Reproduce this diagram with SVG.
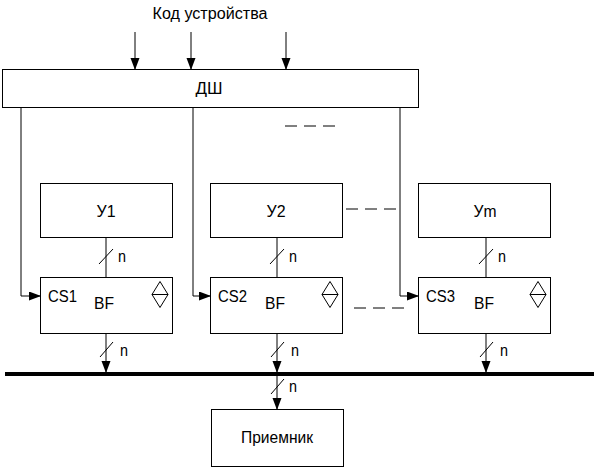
<svg xmlns="http://www.w3.org/2000/svg" width="600" height="470" viewBox="0 0 600 470">
<style>
.box{fill:#fff;stroke:#000;stroke-width:1}
.ln{fill:none;stroke:#000;stroke-width:1}
.dash{fill:none;stroke:#000;stroke-width:1;stroke-dasharray:12 7}
.t{font-family:"Liberation Sans",Arial,sans-serif;font-size:16px;fill:#000}
.m{text-anchor:middle}
</style>
<defs>
<marker id="ar" markerWidth="12" markerHeight="10" refX="11" refY="4.5" orient="auto" markerUnits="userSpaceOnUse">
<path d="M0,0 L12,4.5 L0,9 z" fill="#000"/>
</marker>
</defs>
<rect width="600" height="470" fill="#fff"/>
<text class="t m" x="210" y="19" textLength="115" lengthAdjust="spacingAndGlyphs">Код устройства</text>
<g id="connectors">
<line class="ln" x1="135" y1="32" x2="135" y2="69" marker-end="url(#ar)"/>
<line class="ln" x1="191" y1="32" x2="191" y2="69" marker-end="url(#ar)"/>
<line class="ln" x1="286" y1="32" x2="286" y2="69" marker-end="url(#ar)"/>
<polyline class="ln" points="21,108 21,296 40,296" marker-end="url(#ar)"/>
<polyline class="ln" points="193,108 193,296 210,296" marker-end="url(#ar)"/>
<polyline class="ln" points="400,108 400,296 418,296" marker-end="url(#ar)"/>
<line class="dash" x1="285" y1="126" x2="337" y2="126"/>
<line class="dash" x1="346" y1="209" x2="398" y2="209"/>
<line class="dash" x1="354" y1="308" x2="404" y2="308"/>
<line class="ln" x1="106" y1="237" x2="106" y2="277"/>
<line class="ln" x1="277" y1="237" x2="277" y2="277"/>
<line class="ln" x1="486" y1="237" x2="486" y2="277"/>
<line class="ln" x1="99" y1="264" x2="113" y2="249"/>
<line class="ln" x1="270" y1="264" x2="284" y2="249"/>
<line class="ln" x1="479" y1="264" x2="493" y2="249"/>
<text class="t" x="118" y="262" textLength="8" lengthAdjust="spacingAndGlyphs">n</text>
<text class="t" x="289" y="262" textLength="8" lengthAdjust="spacingAndGlyphs">n</text>
<text class="t" x="498" y="262" textLength="8" lengthAdjust="spacingAndGlyphs">n</text>
<line class="ln" x1="106" y1="333" x2="106" y2="372" marker-end="url(#ar)"/>
<line class="ln" x1="277" y1="333" x2="277" y2="372" marker-end="url(#ar)"/>
<line class="ln" x1="486" y1="333" x2="486" y2="372" marker-end="url(#ar)"/>
<line class="ln" x1="100" y1="357" x2="113" y2="342"/>
<line class="ln" x1="271" y1="357" x2="284" y2="342"/>
<line class="ln" x1="480" y1="357" x2="493" y2="342"/>
<text class="t" x="120" y="356" textLength="8" lengthAdjust="spacingAndGlyphs">n</text>
<text class="t" x="291" y="356" textLength="8" lengthAdjust="spacingAndGlyphs">n</text>
<text class="t" x="500" y="356" textLength="8" lengthAdjust="spacingAndGlyphs">n</text>
<line x1="5" y1="374" x2="594" y2="374" stroke="#000" stroke-width="4"/>
<line class="ln" x1="277" y1="376" x2="277" y2="409" marker-end="url(#ar)"/>
<line class="ln" x1="271" y1="394" x2="284" y2="379"/>
<text class="t" x="289" y="392" textLength="8" lengthAdjust="spacingAndGlyphs">n</text>
</g>
<g id="DSh"><rect class="box" x="2.5" y="69.5" width="416" height="38"/><text class="t m" x="209" y="94" textLength="27" lengthAdjust="spacingAndGlyphs">ДШ</text></g>
<g id="U1"><rect class="box" x="40.5" y="183.5" width="132" height="54"/><text class="t m" x="106" y="217" textLength="19" lengthAdjust="spacingAndGlyphs">У1</text></g>
<g id="U2"><rect class="box" x="210.5" y="183.5" width="132" height="54"/><text class="t m" x="276" y="217" textLength="19" lengthAdjust="spacingAndGlyphs">У2</text></g>
<g id="Um"><rect class="box" x="418.5" y="183.5" width="132" height="54"/><text class="t m" x="485" y="217" textLength="23" lengthAdjust="spacingAndGlyphs">Уm</text></g>
<g id="CS1"><rect class="box" x="40.5" y="277.5" width="132" height="56"/><text class="t" x="48" y="302" textLength="29" lengthAdjust="spacingAndGlyphs">CS1</text><text class="t" x="94" y="309" textLength="20" lengthAdjust="spacingAndGlyphs">BF</text><path class="ln" d="M160,281.5 L168,294.5 L160,307.5 L152,294.5 Z M152,294.5 H168"/></g>
<g id="CS2"><rect class="box" x="210.5" y="277.5" width="132" height="56"/><text class="t" x="218" y="302" textLength="29" lengthAdjust="spacingAndGlyphs">CS2</text><text class="t" x="265" y="309" textLength="20" lengthAdjust="spacingAndGlyphs">BF</text><path class="ln" d="M330,281.5 L338,294.5 L330,307.5 L322,294.5 Z M322,294.5 H338"/></g>
<g id="CS3"><rect class="box" x="418.5" y="277.5" width="132" height="56"/><text class="t" x="426" y="302" textLength="29" lengthAdjust="spacingAndGlyphs">CS3</text><text class="t" x="474" y="309" textLength="20" lengthAdjust="spacingAndGlyphs">BF</text><path class="ln" d="M538,281.5 L546,294.5 L538,307.5 L530,294.5 Z M530,294.5 H546"/></g>
<g id="Receiver"><rect class="box" x="211.5" y="409.5" width="132" height="57"/><text class="t m" x="277" y="443" textLength="72" lengthAdjust="spacingAndGlyphs">Приемник</text></g>
</svg>
